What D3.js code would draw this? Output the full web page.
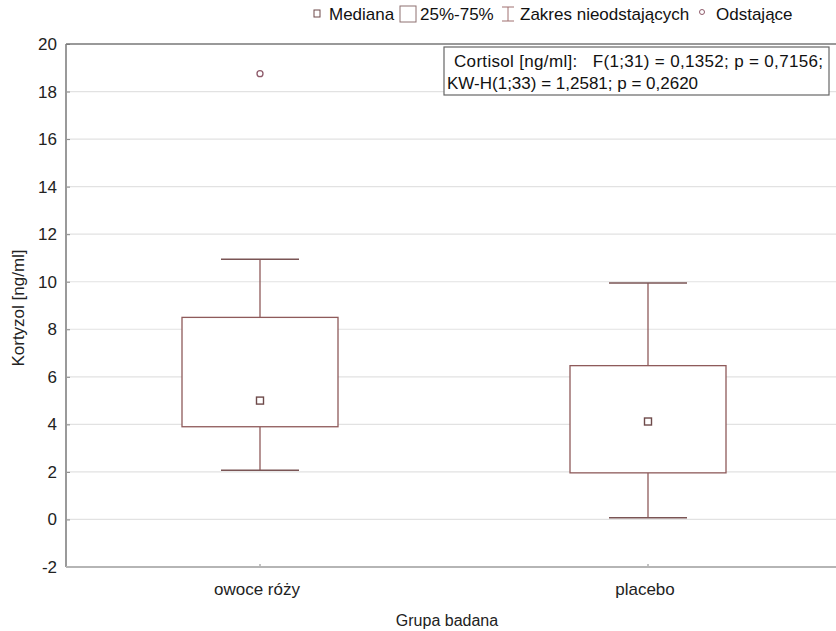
<!DOCTYPE html>
<html><head><meta charset="utf-8">
<script src="https://cdn.jsdelivr.net/npm/d3@7"></script>
<style>body{margin:0;background:#fff}svg{display:block}text{font-family:"Liberation Sans",Arial,sans-serif}</style>
</head><body><svg id="c" width="836" height="631"></svg>
<script>
const categories = ["owoce róży", "placebo"];
const medians = [5.0, 4.12];
const q1 = [3.9, 1.96];
const q3 = [8.5, 6.47];
const whiskLow = [2.07, 0.07];
const whiskHigh = [10.95, 9.95];
const outliers = [[18.75], []];
const yTicks = [-2, 0, 2, 4, 6, 8, 10, 12, 14, 16, 18, 20];
const legendItems = ["Mediana", "25%-75%", "Zakres nieodstających", "Odstające"];
const annotation = ["Cortisol [ng/ml]:   F(1;31) = 0,1352; p = 0,7156;", "KW-H(1;33) = 1,2581; p = 0,2620"];

const svg = d3.select("#c");
const L = 66, R = 842, T = 44, B = 567;
const x = d3.scaleBand().domain(categories).range([L, R]);
const y = d3.scaleLinear().domain([-2, 20]).range([B, T]);
const boxCol = "#8e5a5a";
const FS = 17;

// grid
svg.append("g").selectAll("line").data(yTicks.filter(d => d > -2 && d < 20)).join("line")
  .attr("x1", L).attr("x2", R).attr("y1", d => y(d)).attr("y2", d => y(d))
  .attr("stroke", "#e2e2e2").attr("stroke-width", 1.2);

// axes
const ya = svg.append("g").attr("transform", `translate(${L},0)`)
  .call(d3.axisRight(y).tickValues(yTicks).tickSize(4).tickFormat(""));
ya.select(".domain").remove();
ya.selectAll("line").attr("stroke", "#888");
svg.append("g").selectAll("text").data(yTicks).join("text")
  .attr("x", 57).attr("y", d => y(d) + 6).attr("text-anchor", "end")
  .attr("font-size", FS).attr("fill", "#222").text(d => d);

const xa = svg.append("g").attr("transform", `translate(0,${B})`)
  .call(d3.axisTop(x).tickSize(3).tickFormat(""));
xa.select(".domain").remove();
xa.selectAll("line").attr("stroke", "#888");
svg.append("g").selectAll("text").data(categories).join("text")
  .attr("x", d => x(d) + x.bandwidth() / 2 - 3).attr("y", 595).attr("text-anchor", "middle")
  .attr("font-size", FS).attr("fill", "#222").text(d => d);

// frame
svg.append("line").attr("x1", L).attr("x2", L).attr("y1", T).attr("y2", B).attr("stroke", "#9a9a9a").attr("stroke-width", 2);
svg.append("line").attr("x1", L).attr("x2", R).attr("y1", B).attr("y2", B).attr("stroke", "#b5b5b5").attr("stroke-width", 2);
svg.append("line").attr("x1", L).attr("x2", R).attr("y1", T).attr("y2", T).attr("stroke", "#777").attr("stroke-width", 1.5);

// boxes
const idx = d3.range(categories.length);
const bw = 156, capW = 78;
const g = svg.append("g");
idx.forEach(i => {
  const cx = x(categories[i]) + x.bandwidth() / 2;
  g.append("line").attr("x1", cx).attr("x2", cx).attr("y1", y(whiskHigh[i])).attr("y2", y(q3[i])).attr("stroke", boxCol).attr("stroke-width", 1.3);
  g.append("line").attr("x1", cx).attr("x2", cx).attr("y1", y(q1[i])).attr("y2", y(whiskLow[i])).attr("stroke", boxCol).attr("stroke-width", 1.3);
  g.append("line").attr("x1", cx - capW / 2).attr("x2", cx + capW / 2).attr("y1", y(whiskHigh[i])).attr("y2", y(whiskHigh[i])).attr("stroke", "#7a5555").attr("stroke-width", 1.5);
  g.append("line").attr("x1", cx - capW / 2).attr("x2", cx + capW / 2).attr("y1", y(whiskLow[i])).attr("y2", y(whiskLow[i])).attr("stroke", "#7a5555").attr("stroke-width", 1.5);
  g.append("rect").attr("x", cx - bw / 2).attr("y", y(q3[i])).attr("width", bw).attr("height", y(q1[i]) - y(q3[i]))
    .attr("fill", "#fff").attr("stroke", boxCol).attr("stroke-width", 1.3);
  g.append("rect").attr("x", cx - 3.5).attr("y", y(medians[i]) - 3.5).attr("width", 7).attr("height", 7)
    .attr("fill", "#fff").attr("stroke", "#6e4a4a").attr("stroke-width", 1.4);
  outliers[i].forEach(v => {
    g.append("circle").attr("cx", cx).attr("cy", y(v)).attr("r", 3).attr("fill", "#fff").attr("stroke", "#8e5a6a").attr("stroke-width", 1.3);
  });
});

// annotation box
svg.append("rect").attr("x", 444).attr("y", 47).attr("width", 385).attr("height", 48)
  .attr("fill", "#fff").attr("stroke", "#666").attr("stroke-width", 1.2);
svg.append("text").attr("x", 454).attr("y", 67).attr("font-size", FS).attr("fill", "#111").attr("textLength", 369).attr("lengthAdjust", "spacing").attr("xml:space", "preserve").style("white-space", "pre").text(annotation[0]);
svg.append("text").attr("x", 447).attr("y", 89).attr("font-size", FS).attr("fill", "#111").text(annotation[1]);

// legend
const lg = svg.append("g");
const LY = 20;
lg.append("rect").attr("x", 314).attr("y", 10).attr("width", 6).attr("height", 7).attr("fill", "#fff").attr("stroke", "#6e4a4a").attr("stroke-width", 1);
lg.append("text").attr("x", 329).attr("y", LY).attr("font-size", FS).attr("fill", "#111").text(legendItems[0]);
lg.append("rect").attr("x", 400).attr("y", 6).attr("width", 16).attr("height", 16).attr("fill", "#fff").attr("stroke", "#8e7070").attr("stroke-width", 1);
lg.append("text").attr("x", 420).attr("y", LY).attr("font-size", FS).attr("fill", "#111").text(legendItems[1]);
const ix = 508;
lg.append("line").attr("x1", ix).attr("x2", ix).attr("y1", 7).attr("y2", 21).attr("stroke", "#a07070").attr("stroke-width", 1);
lg.append("line").attr("x1", ix - 6).attr("x2", ix + 6).attr("y1", 7).attr("y2", 7).attr("stroke", "#a07070").attr("stroke-width", 1);
lg.append("line").attr("x1", ix - 6).attr("x2", ix + 6).attr("y1", 21).attr("y2", 21).attr("stroke", "#a07070").attr("stroke-width", 1);
lg.append("text").attr("x", 520).attr("y", LY).attr("font-size", FS).attr("fill", "#111").text(legendItems[2]);
lg.append("circle").attr("cx", 702).attr("cy", 12).attr("r", 2.5).attr("fill", "#fff").attr("stroke", "#8e5a6a").attr("stroke-width", 1);
lg.append("text").attr("x", 716).attr("y", LY).attr("font-size", FS).attr("fill", "#111").text(legendItems[3]);

// axis titles
svg.append("text").attr("x", 447).attr("y", 626).attr("text-anchor", "middle").attr("font-size", 16).attr("fill", "#222").text("Grupa badana");
svg.append("text").attr("transform", "translate(24,308) rotate(-90)").attr("text-anchor", "middle").attr("font-size", FS).attr("fill", "#222").text("Kortyzol [ng/ml]");
</script></body></html>
